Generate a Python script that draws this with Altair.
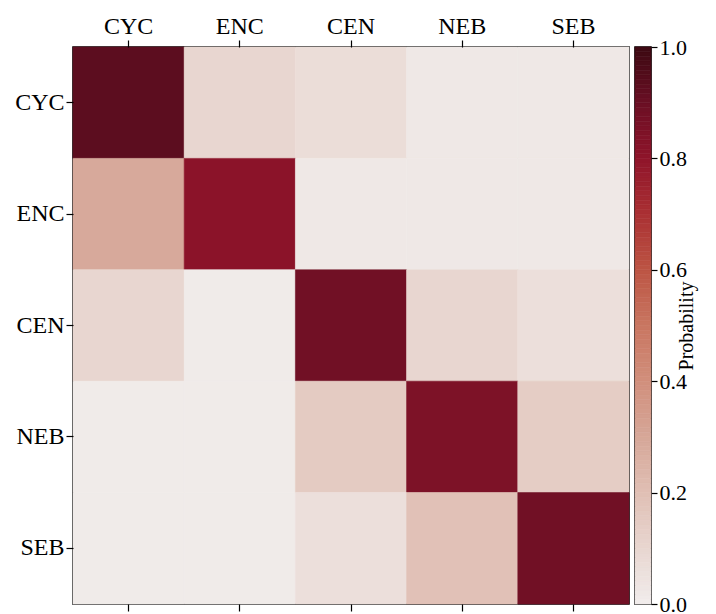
import altair as alt
import pandas as pd

states = ["CYC", "ENC", "CEN", "NEB", "SEB"]
# rows (y) = from-state, columns (x) = to-state
prob_rows = [
    [0.93, 0.10, 0.07, 0.02, 0.02],
    [0.29, 0.81, 0.02, 0.02, 0.02],
    [0.10, 0.01, 0.88, 0.10, 0.06],
    [0.01, 0.01, 0.15, 0.85, 0.14],
    [0.01, 0.01, 0.06, 0.19, 0.88],
]
amp_colors = ["#f1edec", "#e8d6d0", "#e0bfb4", "#d6a798", "#d18f7c",
              "#c97661", "#bc5544", "#aa3033", "#8f142a", "#6a0f24", "#3c0912"]
cbar_ticks = [0.0, 0.2, 0.4, 0.6, 0.8, 1.0]
cbar_steps = 120

rows = []
for i, r in enumerate(states):
    for j, c in enumerate(states):
        rows.append({"row": r, "col": c, "p": prob_rows[i][j]})
df = pd.DataFrame(rows)

cb = pd.DataFrame({"v0": [k / cbar_steps for k in range(cbar_steps)],
                   "v1": [(k + 1) / cbar_steps for k in range(cbar_steps)]})
cb["mid"] = (cb["v0"] + cb["v1"]) / 2

FONT = "Liberation Serif"
cscale = alt.Scale(domain=[0, 1], range=amp_colors, interpolate="rgb")

base = alt.Chart(df)
heat = base.mark_rect(strokeWidth=0.6).encode(
    x=alt.X("col:N", sort=states, title=None,
            axis=alt.Axis(orient="top", labelAngle=0, labelFontSize=24, labelFont=FONT,
                          labelColor="black", tickColor="black", tickSize=7, tickWidth=1.2,
                          domain=False, labelPadding=2)),
    y=alt.Y("row:N", sort=states, title=None,
            axis=alt.Axis(orient="left", labelFontSize=24, labelFont=FONT, labelColor="black",
                          tickColor="black", tickSize=7, tickWidth=1.2, domain=False,
                          labelPadding=2)),
    color=alt.Color("p:Q", scale=cscale, legend=None),
    stroke=alt.Stroke("p:Q", scale=cscale, legend=None),
)
bottom_ticks = base.mark_rect(opacity=0).encode(
    x=alt.X("col:N", sort=states, title=None,
            axis=alt.Axis(orient="bottom", labels=False, tickColor="black", tickSize=7,
                          tickWidth=1.2, domain=False)),
)
heatmap = alt.layer(heat, bottom_ticks).resolve_axis(x="independent").properties(
    width=556, height=557
)

colorbar = alt.Chart(cb).mark_rect(strokeWidth=0.6).encode(
    x=alt.value(0), x2=alt.value(16),
    y=alt.Y("v0:Q", scale=alt.Scale(domain=[0, 1], nice=False, zero=False),
            axis=alt.Axis(orient="right", values=cbar_ticks, format=".1f",
                          title="Probability", titleAngle=270, titleFont=FONT,
                          titleFontSize=20, titleFontWeight="normal", titleColor="black",
                          titlePadding=10, labelFont=FONT, labelFontSize=22,
                          labelColor="black", tickColor="black", tickSize=6,
                          tickWidth=1.2, domain=False, grid=False, labelPadding=2)),
    y2="v1:Q",
    color=alt.Color("mid:Q", scale=cscale, legend=None),
    stroke=alt.Stroke("mid:Q", scale=cscale, legend=None),
).properties(width=16, height=557)

chart = alt.hconcat(heatmap, colorbar, spacing=2).configure_view(
    stroke="black", strokeWidth=1.6
).configure_scale(bandPaddingInner=0, bandPaddingOuter=0)

chart.save("out.html", embed_options={"renderer": "svg", "actions": False})
